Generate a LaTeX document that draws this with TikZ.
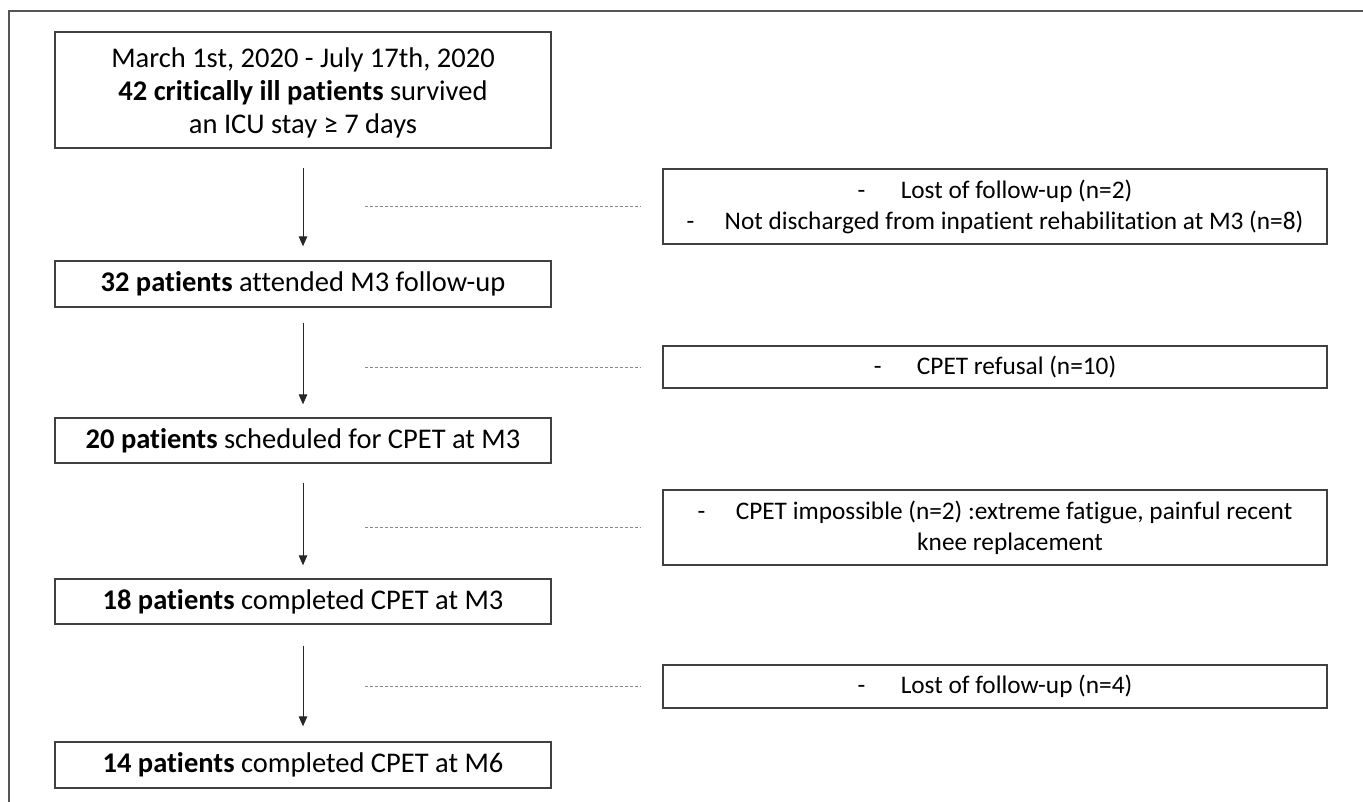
\documentclass[tikz,border=0pt]{standalone}
\usepackage{fontspec}
\setmainfont{Carlito}[Ligatures=NoCommon]
\usetikzlibrary{arrows.meta}
\definecolor{boxline}{HTML}{404040}
\definecolor{frameline}{HTML}{555555}
\definecolor{dashline}{HTML}{8A8A8A}
\tikzset{
  mainbox/.style={draw=boxline, line width=1.3pt, minimum width=496pt, inner sep=0pt, align=center,
     font=\fontsize{28.5}{33}\selectfont},
  sidebox/.style={draw=boxline, line width=1.3pt, minimum width=664pt, inner sep=0pt, align=center,
     font=\fontsize{25.3}{31}\selectfont},
  flowarrow/.style={draw=black!85, line width=1pt, -{Triangle[length=10pt,width=8.5pt]}},
  dashconn/.style={draw=dashline, line width=1pt, dash pattern=on 3pt off 2pt},
}
\begin{document}
\begin{tikzpicture}[x=1pt,y=-1pt]
\useasboundingbox (0,0) rectangle (1363,802);
% outer frame (open at right and bottom)
\draw[frameline, line width=2pt] (9,802) -- (9,11) -- (1363,11);

% main boxes
\node[mainbox, minimum height=116pt] (b1) at (303,90)
  {\rule{0pt}{26pt}March 1st, 2020 - July 17th, 2020\\\textbf{42 critically ill patients} survived\\an ICU stay ≥ 7 days};
\node[mainbox, minimum height=46pt] (b2) at (303,284) {\textbf{32 patients} attended M3 follow-up};
\node[mainbox, minimum height=45pt] (b3) at (303,440.5) {\textbf{20 patients} scheduled for CPET at M3};
\node[mainbox, minimum height=45pt] (b4) at (303,601.5) {\textbf{18 patients} completed CPET at M3};
\node[mainbox, minimum height=46pt] (b5) at (303,765) {\textbf{14 patients} completed CPET at M6};

% side boxes
\node[sidebox, minimum height=75pt] (s1) at (995,206.5)
  {-\hspace{1.4em}Lost of follow-up (n=2)\\-\hspace{1.2em}Not discharged from inpatient rehabilitation at M3 (n=8)};
\node[sidebox, minimum height=42pt] (s2) at (995,367) {-\hspace{1.4em}CPET refusal (n=10)};
\node[sidebox, minimum height=75pt] (s3) at (995,527.5)
  {-\hspace{1.2em}CPET impossible (n=2) :extreme fatigue, painful recent\\\hspace*{30pt}knee replacement};
\node[sidebox, minimum height=43pt] (s4) at (995,686.5) {-\hspace{1.4em}Lost of follow-up (n=4)};

% arrows
\draw[flowarrow, shorten <=19pt, shorten >=14pt] (b1) -- (b2);
\draw[flowarrow, shorten <=15pt, shorten >=13pt] (b2) -- (b3);
\draw[flowarrow, shorten <=19pt, shorten >=13pt] (b3) -- (b4);
\draw[flowarrow, shorten <=21pt, shorten >=15pt] (b4) -- (b5);

% dashed connectors
\coordinate (d1) at (365,206.5);
\coordinate (d2) at (365,367);
\coordinate (d3) at (365,527.5);
\coordinate (d4) at (365,686.5);
\draw[dashconn, shorten >=22pt] (d1) -- (s1.west);
\draw[dashconn, shorten >=22pt] (d2) -- (s2.west);
\draw[dashconn, shorten >=22pt] (d3) -- (s3.west);
\draw[dashconn, shorten >=22pt] (d4) -- (s4.west);
\end{tikzpicture}
\end{document}
